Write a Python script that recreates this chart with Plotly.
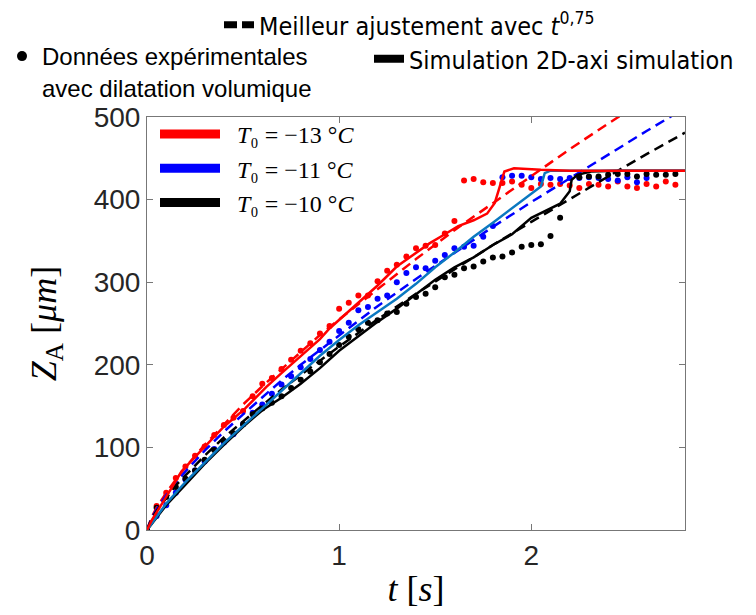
import plotly.graph_objects as go

# ---------------- data ----------------
# experimental data (dots)
t_exp_red = [0.00, 0.05, 0.10, 0.15, 0.20, 0.25, 0.30, 0.35, 0.40, 0.45, 0.50, 0.55, 0.60, 0.65,
             0.70, 0.75, 0.80, 0.85, 0.90, 0.95, 1.00, 1.05, 1.10, 1.15, 1.20, 1.25, 1.30, 1.35,
             1.40, 1.45, 1.50, 1.55, 1.60, 1.65, 1.70, 1.75, 1.80, 1.85, 1.90, 1.95, 2.00, 2.05,
             2.10, 2.15, 2.20, 2.25, 2.30, 2.35, 2.40, 2.45, 2.50, 2.55, 2.60, 2.65, 2.70, 2.75]
z_exp_red = [0, 29, 45, 63, 77, 90, 101, 115, 127, 136, 144, 162, 177, 184,
             195, 206, 217, 226, 238, 247, 268, 275, 284, 284, 301, 314, 321, 331,
             341, 344, 345, 359, 374, 423, 425, 421, 420, 420, 422, 418, 414, 419,
             418, 419, 417, 414, 419, 418, 416, 422, 416, 414, 419, 416, 422, 418]

t_exp_blue = [0.00, 0.05, 0.10, 0.15, 0.20, 0.25, 0.30, 0.35, 0.40, 0.45, 0.50, 0.55, 0.60, 0.65,
              0.70, 0.75, 0.80, 0.85, 0.90, 0.95, 1.00, 1.05, 1.10, 1.15, 1.20, 1.25, 1.30, 1.35,
              1.40, 1.45, 1.50, 1.55, 1.60, 1.65, 1.70, 1.75, 1.80, 1.85, 1.90, 1.95, 2.00, 2.05,
              2.10, 2.15, 2.20, 2.25, 2.30, 2.35, 2.40, 2.45, 2.50, 2.55, 2.60]
z_exp_blue = [0, 17, 30, 45, 61, 72, 83, 98, 106, 116, 128, 142, 152, 165,
              176, 186, 197, 207, 218, 228, 241, 251, 266, 270, 280, 284, 300, 311,
              318, 317, 326, 333, 341, 343, 344, 355, 368, 427, 429, 429, 427, 425,
              426, 425, 426, 426, 427, 426, 425, 423, 427, 421, 426]

t_exp_black = [0.00, 0.05, 0.10, 0.15, 0.20, 0.25, 0.30, 0.35, 0.40, 0.45, 0.50, 0.55, 0.60, 0.65,
               0.70, 0.75, 0.80, 0.85, 0.90, 0.95, 1.00, 1.05, 1.10, 1.15, 1.20, 1.25, 1.30, 1.35,
               1.40, 1.45, 1.50, 1.55, 1.60, 1.65, 1.70, 1.75, 1.80, 1.85, 1.90, 1.95, 2.00, 2.05,
               2.10, 2.15, 2.25, 2.30, 2.35, 2.40, 2.45, 2.50, 2.55, 2.60, 2.65, 2.70, 2.75]
z_exp_black = [0, 27, 40, 52, 62, 72, 85, 97, 108, 117, 128, 140, 147, 154,
               162, 172, 182, 192, 203, 213, 224, 234, 243, 251, 254, 262, 264, 274,
               282, 286, 294, 306, 309, 317, 319, 325, 330, 331, 336, 343, 345, 346,
               356, 378, 427, 428, 428, 430, 431, 431, 428, 431, 430, 430, 431]

# best fit with t^0.75 (dashed)
t_fit = [0, 0.025, 0.05, 0.1, 0.15, 0.2, 0.3, 0.4, 0.5, 0.6, 0.7, 0.8, 0.9, 1.0,
         1.2, 1.4, 1.6, 1.8, 2.0, 2.2, 2.4, 2.6, 2.8]
z_fit_red = [0, 16, 27, 45, 61, 76, 103, 128, 152, 174, 195, 216, 236, 255,
             292, 328, 363, 396, 429, 461, 492, 522, 552]
z_fit_blue = [0, 15, 25, 42, 57, 71, 96, 119, 140, 161, 181, 200, 218, 236,
              271, 304, 336, 367, 397, 426, 455, 483, 511]
z_fit_black = [0, 14, 23, 39, 54, 66, 90, 112, 132, 151, 170, 188, 205, 222,
               255, 286, 316, 345, 373, 401, 428, 455, 481]

# 2D-axi simulation (solid)
t_sim_red = [0, 0.025, 0.1, 0.18, 0.285, 0.4, 0.51, 0.62, 0.7, 0.8, 0.9, 0.95, 1.05, 1.13,
             1.2, 1.3, 1.4, 1.47, 1.55, 1.62, 1.7, 1.77, 1.81, 1.84, 1.86, 1.91, 2.05, 2.2, 2.5, 2.8]
z_sim_red = [0, 12, 40, 71, 97, 125, 147, 173, 190, 210, 231, 244, 265, 282,
             296, 319, 336, 347, 358, 368, 375, 383, 396, 420, 434, 438, 436, 435, 435, 435]
t_sim_blue = [0, 0.1, 0.2, 0.3, 0.4, 0.5, 0.6, 0.7, 0.8, 0.9, 1.0, 1.1, 1.2, 1.3, 1.4,
              1.5, 1.6, 1.7, 1.8, 1.9, 2.0, 2.05, 2.07, 2.1, 2.4, 2.8]
z_sim_blue = [0, 32, 58, 82, 105, 126, 147, 168, 190, 211, 230, 248, 264, 280, 298,
              318, 336, 355, 372, 390, 407, 416, 432, 435, 435, 435]
t_sim_black = [0, 0.1, 0.2, 0.3, 0.4, 0.5, 0.6, 0.7, 0.8, 0.9, 1.0, 1.1, 1.2, 1.3, 1.4,
               1.5, 1.6, 1.7, 1.8, 1.9, 2.0, 2.1, 2.15, 2.2, 2.21, 2.24, 2.31, 2.45, 2.8]
z_sim_black = [0, 30, 55, 80, 103, 125, 145, 160, 177, 196, 217, 235, 252, 268, 286,
               303, 318, 330, 345, 358, 378, 390, 395, 410, 424, 430, 434, 435, 435]

x_ticks = [0, 1, 2]
y_ticks = [0, 100, 200, 300, 400, 500]

legend_T0 = ["\u2002<i>T</i>\u2080 = \u221213 \u00b0<i>C</i>",
             "\u2002<i>T</i>\u2080 = \u221211 \u00b0<i>C</i>",
             "\u2002<i>T</i>\u2080 = \u221210 \u00b0<i>C</i>"]

RED, BLUE, BLACK, CYAN = "#ff0000", "#0000ff", "#000000", "#0a78c0"
DASH = "10px,6px"
NARROW = "Liberation Sans Narrow, DejaVu Sans Condensed, sans-serif"

fig = go.Figure()

# experimental dots
for t, z, c in [(t_exp_red, z_exp_red, RED), (t_exp_blue, z_exp_blue, BLUE),
                (t_exp_black, z_exp_black, BLACK)]:
    fig.add_trace(go.Scatter(x=t, y=z, mode="markers", showlegend=False,
                             marker=dict(color=c, size=6, line=dict(width=0))))
# fits
for z, c in [(z_fit_red, RED), (z_fit_blue, BLUE), (z_fit_black, BLACK)]:
    fig.add_trace(go.Scatter(x=t_fit, y=z, mode="lines", showlegend=False,
                             line=dict(color=c, width=2.5, dash=DASH)))
# simulations
for t, z, c in [(t_sim_black, z_sim_black, BLACK), (t_sim_blue, z_sim_blue, CYAN),
                (t_sim_red, z_sim_red, RED)]:
    fig.add_trace(go.Scatter(x=t, y=z, mode="lines", showlegend=False,
                             line=dict(color=c, width=2.5)))

# legend-only entries
fig.add_trace(go.Scatter(x=[None], y=[None], mode="lines", legend="legend",
                         line=dict(color=BLACK, width=7, dash="13px,5px"),
                         name="Meilleur ajustement avec <i>t</i><sup>0,75</sup>"))
fig.add_trace(go.Scatter(x=[None], y=[None], mode="markers", legend="legend2",
                         marker=dict(color=BLACK, size=10),
                         name="Données expérimentales<br>avec dilatation volumique"))
fig.add_trace(go.Scatter(x=[None], y=[None], mode="lines", legend="legend4",
                         line=dict(color=BLACK, width=8),
                         name="Simulation 2D-axi simulation"))
for name, c in zip(legend_T0, [RED, BLUE, BLACK]):
    fig.add_trace(go.Scatter(x=[None], y=[None], mode="lines", legend="legend3",
                             line=dict(color=c, width=9), name=name))

W, H = 756, 615
OFF = 8  # page offset of the figure inside the window
L, R, T, B = 147 - OFF, 71 + OFF, 117 - OFF, 85 + OFF
pw, ph = W - L - R, H - T - B


def px(x_screen):
    return (x_screen - OFF - L) / pw


def py(y_screen):
    return (H - B - (y_screen - OFF)) / ph


axis_common = dict(showline=True, linecolor="#777", linewidth=1, mirror="ticks",
                   ticks="inside", ticklen=6, tickcolor="#777", showgrid=False,
                   zeroline=False,
                   tickfont=dict(family="Liberation Sans, Arial, sans-serif", size=28,
                                 color="#262626"))

fig.update_layout(
    width=W, height=H,
    margin=dict(l=L, r=R, t=T, b=B, autoexpand=False),
    plot_bgcolor="white", paper_bgcolor="white",
    xaxis=dict(range=[0, 2.8], tickvals=x_ticks, **axis_common,
               title=dict(text="<i>t</i> [<i>s</i>]", standoff=6,
                          font=dict(family="Liberation Serif, serif", size=36, color="black"))),
    yaxis=dict(range=[0, 500], tickvals=y_ticks, **axis_common,
               title=dict(text="<i>Z</i><sub>A</sub> [<i>\u03bcm</i>]", standoff=26,
                          font=dict(family="Liberation Serif, serif", size=36, color="black"))),
    legend=dict(x=px(219), y=py(2), xanchor="left", yanchor="top", orientation="h",
                bgcolor="rgba(0,0,0,0)",
                font=dict(family=NARROW, size=25, color="black")),
    legend2=dict(x=px(2), y=py(34), xanchor="left", yanchor="top", orientation="h",
                 bgcolor="rgba(0,0,0,0)", valign="top",
                 font=dict(family="Liberation Sans, Arial, sans-serif", size=24, color="black")),
    legend4=dict(x=px(369), y=py(36), xanchor="left", yanchor="top", orientation="h",
                 bgcolor="rgba(0,0,0,0)",
                 font=dict(family=NARROW, size=25, color="black")),
    legend3=dict(x=px(155), y=py(112), xanchor="left", yanchor="top", orientation="v",
                 bgcolor="rgba(0,0,0,0)", itemwidth=60, tracegroupgap=0,
                 font=dict(family="Liberation Serif, serif", size=24, color="black")),
)

fig.write_html("out.html")
